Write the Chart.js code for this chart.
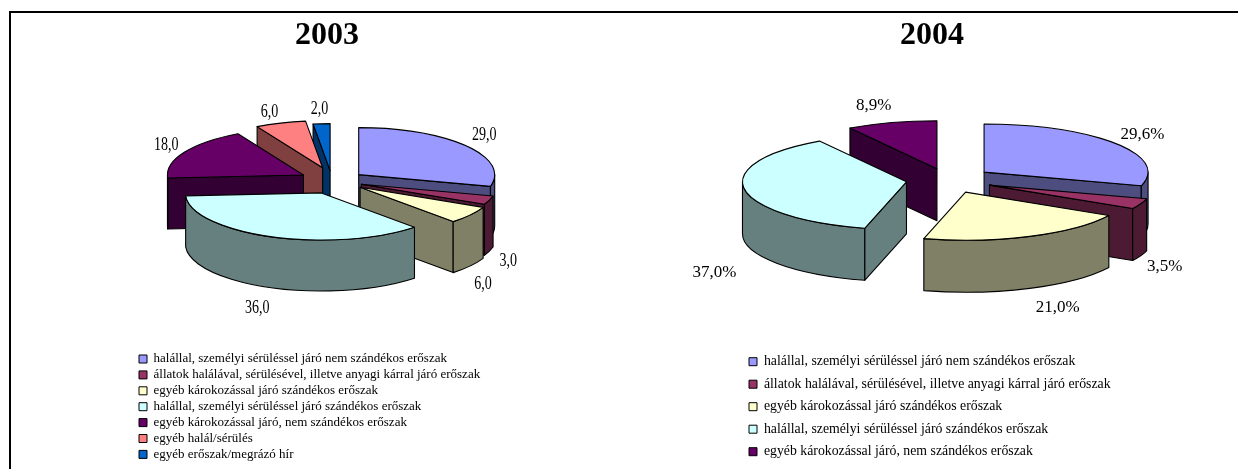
<!DOCTYPE html>
<html>
<head>
<meta charset="utf-8">
<title>Erőszak 2003-2004</title>
<script src="https://cdn.jsdelivr.net/npm/chart.js@4"></script>
<style>
  html, body { margin: 0; padding: 0; background: #fff; overflow: hidden; }
  #frame { position: absolute; left: 9px; top: 11px; right: 0; bottom: 0; border-top: 2px solid #000; border-left: 2px solid #000; }
  canvas { position: absolute; top: 0; }
  #chart2003 { left: 0; }
  #chart2004 { left: 619px; }
</style>
</head>
<body>
<div id="frame"></div>
<canvas id="chart2003" width="619" height="469"></canvas>
<canvas id="chart2004" width="619" height="469"></canvas>
<script>
const categories = [
  "halállal, személyi sérüléssel járó nem szándékos erőszak",
  "állatok halálával, sérülésével, illetve anyagi kárral járó erőszak",
  "egyéb károkozással járó szándékos erőszak",
  "halállal, személyi sérüléssel járó szándékos erőszak",
  "egyéb károkozással járó, nem szándékos erőszak",
  "egyéb halál/sérülés",
  "egyéb erőszak/megrázó hír"
];
const values2003 = [29, 3, 6, 36, 18, 6, 2];
const values2004 = [29.6, 3.5, 21, 37, 8.9];
const colors = ["#9999FF", "#993366", "#FFFFCC", "#CCFFFF", "#660066", "#FF8080", "#0066CC"];

function halfColor(hex) {
  const n = parseInt(hex.slice(1), 16);
  return `rgb(${(n >> 16) / 2},${((n >> 8) & 255) / 2},${(n & 255) / 2})`;
}

function midAngle(arc) {
  return (arc.startAngle + arc.endAngle) / 2;
}

// Chart.js has no 3D pie, so the plugin paints walls and then the real arc elements squashed
function pie3d(cfg) {
  return {
    id: "pie3d",
    afterLayout(chart) {
      const legend = chart.legend;
      const pad = legend.options.labels.padding;
      legend.left = cfg.legendX - pad;
      legend.top = cfg.legendY - pad;
      legend.right = chart.width;
      legend.bottom = chart.height;
      const title = chart.titleBlock;
      const mid = (title.left + title.right) / 2;
      title.left += cfg.titleX - mid;
      title.right += cfg.titleX - mid;
    },
    beforeDatasetDraw(chart, args) {
      const ctx = chart.ctx;
      const arcs = args.meta.data;
      const k = cfg.squash;
      const d = cfg.depth;
      // back slices first
      const order = arcs.map((a, i) => i).sort((p, q) => Math.sin(midAngle(arcs[p])) - Math.sin(midAngle(arcs[q])));

      ctx.save();
      ctx.lineWidth = 1.1;
      ctx.strokeStyle = "#000";
      ctx.lineJoin = "round";

      order.forEach(i => {
        const arc = arcs[i];
        const a0 = arc.startAngle;
        const a1 = arc.endAngle;
        const r = arc.outerRadius;
        const m = midAngle(arc);
        const ax = cfg.centerX + Math.cos(m) * cfg.explode[i] + (cfg.shiftX[i] || 0);
        const ay = cfg.centerY + Math.sin(m) * cfg.explode[i] * k;
        ctx.fillStyle = halfColor(colors[i]);

        const wall = a => {
          const px = ax + Math.cos(a) * r;
          const py = ay + Math.sin(a) * r * k;
          ctx.beginPath();
          ctx.moveTo(ax, ay);
          ctx.lineTo(px, py);
          ctx.lineTo(px, py + d);
          ctx.lineTo(ax, ay + d);
          ctx.closePath();
          ctx.fill();
          ctx.stroke();
        };
        if (Math.cos(a0) < 0) wall(a0);
        if (Math.cos(a1) > 0) wall(a1);

        // outer rim, only the part facing the viewer
        const from = Math.max(a0, 0);
        const to = Math.min(a1, Math.PI);
        if (to > from) {
          ctx.beginPath();
          ctx.ellipse(ax, ay, r, r * k, 0, from, to);
          ctx.ellipse(ax, ay + d, r, r * k, 0, to, from, true);
          ctx.closePath();
          ctx.fill();
          ctx.stroke();
        }

        // top face is the library's arc element
        ctx.save();
        ctx.translate(ax, ay);
        ctx.scale(1, k);
        ctx.translate(-arc.x, -arc.y);
        arc.draw(ctx);
        ctx.restore();

        ctx.beginPath();
        ctx.moveTo(ax, ay);
        ctx.ellipse(ax, ay, r, r * k, 0, a0, a1);
        ctx.closePath();
        ctx.stroke();
      });

      // value labels
      ctx.fillStyle = "#000";
      ctx.font = `${cfg.labelSize}px "Liberation Serif"`;
      ctx.textAlign = "center";
      ctx.textBaseline = "middle";
      arcs.forEach((arc, i) => {
        const m = midAngle(arc);
        const r = arc.outerRadius + cfg.explode[i];
        const x = cfg.centerX + Math.cos(m) * r + cfg.labelNudge[i][0];
        const y = cfg.centerY + Math.sin(m) * r * k + cfg.labelNudge[i][1];
        const text = chart.data.datasets[0].data[i].toFixed(1).replace(".", ",") + cfg.suffix;
        ctx.save();
        ctx.translate(x, y);
        ctx.scale(cfg.labelStretch, 1);
        ctx.fillText(text, 0, 0);
        ctx.restore();
      });

      ctx.restore();
      return false;
    }
  };
}

function makePie(id, title, values, radius, legendFont, legendPad, cfg) {
  new Chart(document.getElementById(id), {
    type: "pie",
    data: {
      labels: categories.slice(0, values.length),
      datasets: [{
        data: values,
        backgroundColor: colors.slice(0, values.length),
        borderWidth: 0
      }]
    },
    options: {
      responsive: false,
      animation: false,
      radius: radius,
      plugins: {
        tooltip: { enabled: false },
        title: {
          display: true,
          text: title,
          color: "#000",
          padding: { top: 17, bottom: 0 },
          font: { family: "Liberation Serif", size: 32, weight: "bold" }
        },
        legend: {
          position: "chartArea",
          align: "start",
          labels: {
            boxWidth: 8,
            boxHeight: 8,
            padding: legendPad,
            color: "#000",
            font: { family: "Liberation Serif", size: legendFont },
            generateLabels(chart) {
              return Chart.overrides.pie.plugins.legend.labels.generateLabels(chart).map(item => {
                item.strokeStyle = "#000";
                item.lineWidth = 1;
                return item;
              });
            }
          }
        }
      }
    },
    plugins: [pie3d(cfg)]
  });
}

makePie("chart2003", "2003", values2003, 136, 13, 2.9, {
  centerX: 335, centerY: 181, squash: 0.346, depth: 51,
  explode: [30, 28, 31, 37, 36, 40, 30],
  shiftX: [0, 0, 0, 0, 0, 0, -3],
  titleX: 327,
  legendX: 139, legendY: 352.5,
  labelSize: 18, labelStretch: 0.78, suffix: "",
  labelNudge: [[18, -11], [19, 61], [13, 69], [-14, 72], [-18, -7], [-11, -11], [-5, -14]]
});

makePie("chart2004", "2004", values2004, 164, 13.8, 8.7, {
  centerX: 948 - 619, centerY: 180, squash: 0.293, depth: 52,
  explode: [45, 45, 45, 42, 40],
  shiftX: [],
  titleX: 932 - 619,
  legendX: 749 - 619, legendY: 354.8,
  labelSize: 17, labelStretch: 1, suffix: "%",
  labelNudge: [[27, -9], [24, 63], [28, 71], [-30, 83], [-18, -17]]
});
</script>
</body>
</html>
